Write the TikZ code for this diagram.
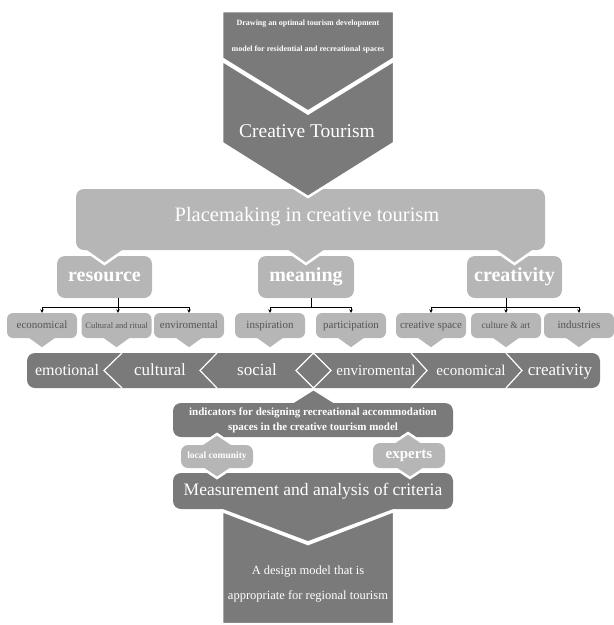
\documentclass[tikz,border=0pt]{standalone}
\usepackage{fontspec}
\setmainfont{Liberation Serif}
\usetikzlibrary{arrows.meta}
\definecolor{darkgrey}{RGB}{122,122,122}
\definecolor{lightgrey}{RGB}{182,182,182}
\definecolor{textgrey}{RGB}{85,85,85}
\newcommand{\fsz}[1]{\fontsize{#1}{#1}\selectfont}

\tikzset{
  gap/.style={draw=white, line width=2.5pt},
  subbox/.style={fill=lightgrey, rounded corners=6pt, minimum width=70pt, minimum height=25pt,
    inner sep=0pt, text height=8pt, text depth=2.5pt, text=textgrey, font=\fsz{11}},
  mainbox/.style={fill=lightgrey, rounded corners=8pt, minimum width=95pt, minimum height=42pt,
    inner sep=0pt, text height=13pt, text depth=4pt, text=white, font=\bfseries\fsz{20}},
  barword/.style={text=white, inner sep=0pt, text height=11pt, text depth=3pt},
  tree/.style={line width=0.8pt, -{Stealth[length=3.5pt,width=3.5pt]}},
}

\begin{document}
\begin{tikzpicture}[x=1pt, y=-1pt]
\useasboundingbox (0,0) rectangle (614,625);

% sub criteria
\node[subbox] (econ) at (42,325.5) {economical};
\node[subbox, font=\fsz{8.5}] (ritu) at (116.5,325.5) {Cultural and ritual};
\node[subbox] (envi) at (189,325.5) {enviromental};
\node[subbox] (insp) at (270,325.5) {inspiration};
\node[subbox] (part) at (351,325.5) {participation};
\node[subbox] (cspa) at (431,325.5) {creative space};
\node[subbox, font=\fsz{9.5}] (cart) at (506,325.5) {culture \& art};
\node[subbox] (indu) at (579,325.5) {industries};
\foreach \n in {econ,ritu,envi,insp,part,cspa,cart,indu}
  \fill[lightgrey] ([xshift=-14pt,yshift=1pt]\n.south) -- ++(14,10) -- ++(14,-10) -- cycle;

% dimensions bar
\fill[darkgrey, rounded corners=8pt] (27,353) rectangle (600,388);
\draw[white, line width=1.2pt] (122,353) -- (104,370.5) -- (122,388)
  (217,353) -- (200,370.5) -- (217,388)
  (313.5,353) -- (296,370.5) -- (313.5,388) -- (331,370.5) -- cycle
  (411,353) -- (427,370.5) -- (411,388)
  (506,353) -- (522,370.5) -- (506,388);
\node[barword, font=\fsz{16}] (emot) at (67,371) {emotional};
\node[barword, font=\fsz{17}] (cult) at (160,371) {cultural};
\node[barword, font=\fsz{17}] (soci) at (257,371) {social};
\node[barword, font=\fsz{15}] (envb) at (376,371) {enviromental};
\node[barword, font=\fsz{15}] (ecob) at (471,371) {economical};
\node[barword, font=\fsz{17}] (creb) at (560,371) {creativity};

% main criteria
\node[mainbox] (res) at (104.5,277) {resource};
\node[mainbox, minimum width=96pt] (mea) at (306,277) {meaning};
\node[mainbox] (cre) at (514.5,277) {creativity};

\coordinate (resH) at (118,307);
\coordinate (meaH) at (311,307);
\coordinate (creH) at (506,307);
\draw[line width=0.8pt] (res.south -| resH) -- (resH);
\draw[tree] (resH) -| (econ.north);
\draw[tree] (resH) -- (resH |- ritu.north);
\draw[tree] (resH) -| (envi.north);
\draw[line width=0.8pt] (mea.south -| meaH) -- (meaH);
\draw[tree] (meaH) -| (insp.north);
\draw[tree] (meaH) -| (part.north);
\draw[line width=0.8pt] (cre.south -| creH) -- (creH);
\draw[tree] (creH) -| (cspa.north);
\draw[tree] (creH) -- (cart.north);
\draw[tree] (creH) -| (indu.north);

% placemaking
\foreach \x in {104.5,306,514.5}
  \filldraw[gap, fill=lightgrey] (\x-28.6,244) -- (\x,264) -- (\x+28.6,244) -- cycle;
\fill[lightgrey, rounded corners=8pt] (76,189) rectangle (545,250);
\node[text=white, font=\fsz{20.5}] (place) at (307,217) {Placemaking in creative tourism};

% creative tourism chevron
\filldraw[gap, fill=darkgrey] (222,11) -- (394,11) -- (394,58.5) -- (308,111.5) -- (222,58.5) -- cycle;
\filldraw[gap, fill=darkgrey] (222,60.5) -- (308,113.5) -- (394,60.5) -- (394,143) -- (308,197) -- (222,143) -- cycle;
\node[text=white, font=\bfseries\fontsize{8}{26}\selectfont, align=center] (aim) at (308,37)
  {Drawing an optimal tourism development\\model for residential and recreational spaces};
\node[text=white, font=\fsz{19.5}] (ctour) at (307,131) {Creative Tourism};

% indicators
\filldraw[gap, fill=darkgrey] (280,410) -- (313.5,389) -- (347,410) -- cycle;
\node[fill=darkgrey, rounded corners=8pt, minimum width=280pt, minimum height=34pt, inner sep=0pt,
  text=white, font=\bfseries\fontsize{11}{15}\selectfont, align=center] (indi) at (313,420)
  {indicators for designing recreational accommodation\\spaces in the creative tourism model};

% measurement
\node[fill=darkgrey, rounded corners=8pt, minimum width=280pt, minimum height=36pt, inner sep=0pt,
  text=white, font=\fsz{17.5}] (meas) at (313,491) {Measurement and analysis of criteria};
\fill[darkgrey] (223,505) -- (393,505) -- (393,509) -- (308,541) -- (223,509) -- cycle;

% design model
\filldraw[gap, fill=darkgrey] (222,511) -- (308,544) -- (394,511) -- (394,624) -- (222,624) -- cycle;
\node[text=white, font=\fontsize{12.5}{25}\selectfont, align=center] (model) at (308,584.5)
  {A design model that is\\appropriate for regional tourism};

% respondents
\filldraw[gap, fill=lightgrey] (193,450) -- (217,434) -- (241,450) -- cycle;
\filldraw[gap, fill=lightgrey] (193,462) -- (217,478) -- (241,462) -- cycle;
\node[fill=lightgrey, rounded corners=7pt, minimum width=72pt, minimum height=23pt, inner sep=0pt,
  text=white, font=\bfseries\fsz{9.5}] (locl) at (217,456.5) {local comunity};
\filldraw[gap, fill=lightgrey] (384,449) -- (408,433) -- (432,449) -- cycle;
\filldraw[gap, fill=lightgrey] (386,462) -- (410,478) -- (434,462) -- cycle;
\node[fill=lightgrey, rounded corners=7pt, minimum width=72pt, minimum height=25pt, inner sep=0pt,
  text=white, font=\bfseries\fsz{15}] (expt) at (409,455.5) {experts};
\end{tikzpicture}
\end{document}
